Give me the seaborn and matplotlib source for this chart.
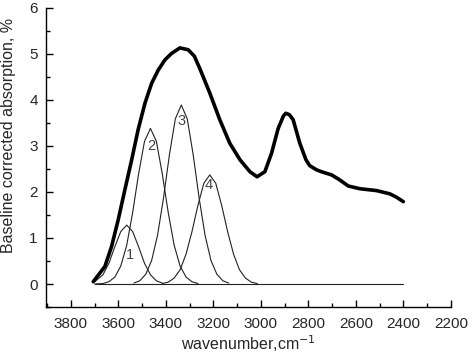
import numpy as np
import pandas as pd
import matplotlib
matplotlib.use("Agg")
import matplotlib.pyplot as plt
from matplotlib.ticker import MultipleLocator
import seaborn as sns

# measured spectrum (thick line)
total_x = [3706, 3657, 3629, 3601, 3573, 3544, 3517, 3488, 3460, 3432, 3404, 3376, 3341, 3306,
           3280, 3257, 3215, 3173, 3131, 3088, 3046, 3016, 2983, 2955, 2927, 2905, 2895, 2880,
           2864, 2836, 2810, 2794, 2765, 2745, 2702, 2670, 2632, 2583, 2513, 2457, 2430, 2400]
total_y = [0.05, 0.38, 0.81, 1.39, 2.04, 2.70, 3.35, 3.93, 4.36, 4.65, 4.87, 5.01, 5.13, 5.09,
           4.95, 4.68, 4.15, 3.57, 3.06, 2.70, 2.44, 2.33, 2.44, 2.84, 3.38, 3.65, 3.71, 3.68,
           3.57, 3.06, 2.70, 2.57, 2.48, 2.44, 2.37, 2.27, 2.13, 2.07, 2.03, 1.96, 1.89, 1.79]

# fitted components
peak1_x = [3700, 3665, 3640, 3615, 3590, 3565, 3540, 3515, 3490, 3465, 3440, 3415]
peak1_y = [0.05, 0.20, 0.45, 0.81, 1.14, 1.28, 1.14, 0.81, 0.45, 0.20, 0.07, 0.02]

peak2_x = [3700, 3665, 3640, 3615, 3590, 3565, 3540, 3515, 3490, 3465, 3440, 3415, 3390, 3365,
           3340, 3315, 3290, 3265]
peak2_y = [0.00, 0.01, 0.05, 0.15, 0.39, 0.84, 1.55, 2.39, 3.10, 3.38, 3.10, 2.39, 1.55, 0.84,
           0.39, 0.15, 0.05, 0.01]

peak3_x = [3535, 3510, 3485, 3460, 3435, 3410, 3385, 3360, 3335, 3310, 3285, 3260, 3235, 3210,
           3185, 3160, 3135]
peak3_y = [0.02, 0.07, 0.21, 0.51, 1.06, 1.87, 2.81, 3.59, 3.89, 3.59, 2.81, 1.87, 1.06, 0.51,
           0.21, 0.07, 0.02]

peak4_x = [3415, 3390, 3365, 3340, 3315, 3290, 3265, 3240, 3215, 3190, 3165, 3140, 3115, 3090,
           3065, 3040, 3015]
peak4_y = [0.01, 0.04, 0.13, 0.31, 0.65, 1.14, 1.71, 2.19, 2.37, 2.19, 1.71, 1.14, 0.65, 0.31,
           0.13, 0.04, 0.01]

baseline_x = [3700, 2400]
baseline_y = [0, 0]

labels = ["1", "2", "3", "4"]
label_x = [3551, 3460, 3334, 3219]
label_y = [0.62, 3.0, 3.55, 2.15]

sns.set_style("ticks")
plt.rcParams["font.family"] = ["Liberation Sans", "DejaVu Sans"]

fig = plt.figure(figsize=(4.74, 3.57), dpi=100)
ax = fig.add_axes([0.097, 0.14, 0.854, 0.838])

for px, py in [(peak1_x, peak1_y), (peak2_x, peak2_y), (peak3_x, peak3_y),
               (peak4_x, peak4_y), (baseline_x, baseline_y)]:
    sns.lineplot(x=px, y=py, ax=ax, color="#222222", linewidth=0.8, sort=False)

sns.lineplot(x=total_x, y=total_y, ax=ax, color="black", linewidth=2.6, sort=False,
             solid_joinstyle="round", solid_capstyle="round")

for t, lx, ly in zip(labels, label_x, label_y):
    ax.text(lx, ly, t, fontsize=10.5, color="#444444", ha="center", va="center")

ax.set_xlim(3905, 2200)
ax.set_ylim(-0.5, 6)
ax.xaxis.set_major_locator(MultipleLocator(200))
ax.xaxis.set_minor_locator(MultipleLocator(100))
ax.yaxis.set_major_locator(MultipleLocator(1))
ax.yaxis.set_minor_locator(MultipleLocator(0.5))
ax.tick_params(which="major", direction="in", length=5, width=1, labelsize=11, color="black")
ax.tick_params(which="minor", direction="in", length=3, width=1, color="black")
ax.tick_params(axis="x", pad=7)
ax.tick_params(axis="y", pad=6)
for s in ["top", "right"]:
    ax.spines[s].set_visible(False)
for s in ["left", "bottom"]:
    ax.spines[s].set_color("black")
    ax.spines[s].set_linewidth(1)

ax.set_xlabel("wavenumber,cm$^{-1}$", fontsize=11.5, labelpad=2)
ax.set_ylabel("Baseline corrected absorption, %", fontsize=11.5)
ax.yaxis.set_label_coords(-0.075, 0.575)

fig.savefig("out.png", dpi=100)
